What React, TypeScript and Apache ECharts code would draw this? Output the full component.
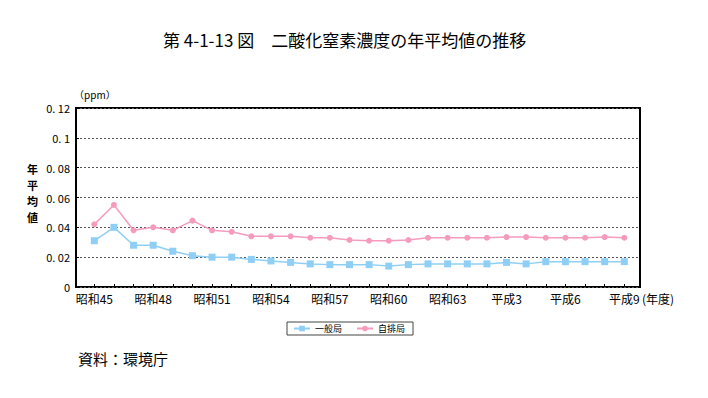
import React, { useEffect, useRef } from "react";
import * as echarts from "echarts";

const categories = [
  "昭和45", "昭和46", "昭和47", "昭和48", "昭和49", "昭和50", "昭和51", "昭和52", "昭和53", "昭和54",
  "昭和55", "昭和56", "昭和57", "昭和58", "昭和59", "昭和60", "昭和61", "昭和62", "昭和63", "平成元",
  "平成2", "平成3", "平成4", "平成5", "平成6", "平成7", "平成8", "平成9",
];
const ippan = [
  0.031, 0.040, 0.028, 0.028, 0.024, 0.021, 0.020, 0.020, 0.0185, 0.0175,
  0.0165, 0.0155, 0.015, 0.015, 0.015, 0.014, 0.015, 0.0155, 0.0155, 0.0155,
  0.0155, 0.0165, 0.0155, 0.017, 0.017, 0.017, 0.017, 0.017,
];
const jihai = [
  0.042, 0.055, 0.038, 0.040, 0.038, 0.0445, 0.038, 0.037, 0.034, 0.034,
  0.034, 0.033, 0.033, 0.0315, 0.031, 0.031, 0.0315, 0.033, 0.033, 0.033,
  0.033, 0.0335, 0.0335, 0.033, 0.033, 0.033, 0.0335, 0.033,
];
const seriesNames = ["一般局", "自排局"];
const title = "第 4-1-13 図　二酸化窒素濃度の年平均値の推移";
const yNameChars = ["年", "平", "均", "値"];
const unit = "（ppm）";
const source = "資料：環境庁";
const xUnit = "(年度)";

const FONT = "'Noto Sans CJK JP', 'Noto Sans', sans-serif";

export default function App() {
  const ref = useRef<HTMLDivElement>(null);
  useEffect(() => {
    if (!ref.current) return;
    const chart = echarts.init(ref.current, null, { renderer: "svg" });
    const fmtY = (v: number) => (v === 0 ? "0" : String(+v.toFixed(2)).replace("0.", "0. "));
    const yNameTexts = yNameChars.map((c, i) => ({
      type: "text",
      x: 27,
      y: 163 + i * 16,
      style: { text: c, fontSize: 11, fill: "#000", fontFamily: FONT, fontWeight: "bold" },
    }));
    chart.setOption({
      animation: false,
      textStyle: { fontFamily: FONT, color: "#000" },
      grid: [
        { left: 76, top: 108, width: 564, height: 179, show: true, borderColor: "#000", borderWidth: 2, backgroundColor: "transparent" },
        { left: 94.3, top: 108, width: 530, height: 179 },
      ],
      xAxis: [
        { gridIndex: 0, type: "value", min: 0, max: 1, show: false },
        {
          gridIndex: 1,
          type: "category",
          data: categories,
          boundaryGap: false,
          axisLine: { show: false },
          axisTick: { show: true, inside: true, length: 3, interval: 0, lineStyle: { color: "#000" } },
          axisLabel: { interval: 2, fontSize: 12, color: "#000", margin: 5, fontFamily: FONT },
          splitLine: { show: false },
        },
      ],
      yAxis: [
        {
          gridIndex: 0,
          type: "value",
          min: 0,
          max: 0.12,
          interval: 0.02,
          axisLine: { show: false },
          axisTick: { show: true, inside: true, length: 3, lineStyle: { color: "#000" } },
          axisLabel: { formatter: fmtY, fontSize: 11, color: "#000", margin: 6, fontFamily: FONT },
          splitLine: { show: true, lineStyle: { type: [2, 2], color: "#555", width: 1 } },
        },
        { gridIndex: 1, type: "value", min: 0, max: 0.12, show: false },
      ],
      legend: {
        left: 287,
        top: 322,
        orient: "horizontal",
        data: seriesNames,
        borderColor: "#444",
        borderWidth: 1,
        padding: [2, 8, 2, 6],
        itemGap: 14,
        itemWidth: 16,
        itemHeight: 7,
        textStyle: { fontSize: 9, color: "#000", fontFamily: FONT },
      },
      graphic: [
        { type: "text", x: 163, y: 31, style: { text: title, fontSize: 17, fill: "#000", fontFamily: FONT } },
        ...yNameTexts,
        { type: "text", x: 74, y: 89, style: { text: unit, fontSize: 10, fill: "#000", fontFamily: FONT } },
        { type: "text", x: 642, y: 292, style: { text: xUnit, fontSize: 12, fill: "#000", fontFamily: FONT } },
        { type: "text", x: 78, y: 351, style: { text: source, fontSize: 15, fill: "#000", fontFamily: FONT } },
      ],
      series: [
        {
          name: seriesNames[0],
          type: "line",
          xAxisIndex: 1,
          yAxisIndex: 1,
          data: ippan,
          symbol: "rect",
          symbolSize: 7,
          itemStyle: { color: "#8fcff6" },
          lineStyle: { color: "#8fcff6", width: 1.5 },
        },
        {
          name: seriesNames[1],
          type: "line",
          xAxisIndex: 1,
          yAxisIndex: 1,
          data: jihai,
          symbol: "circle",
          symbolSize: 6,
          itemStyle: { color: "#f59bbd" },
          lineStyle: { color: "#f59bbd", width: 1.5 },
        },
      ],
    });
    return () => chart.dispose();
  }, []);
  return <div ref={ref} style={{ position: "absolute", left: 0, top: 0, width: 708, height: 398 }} />;
}
